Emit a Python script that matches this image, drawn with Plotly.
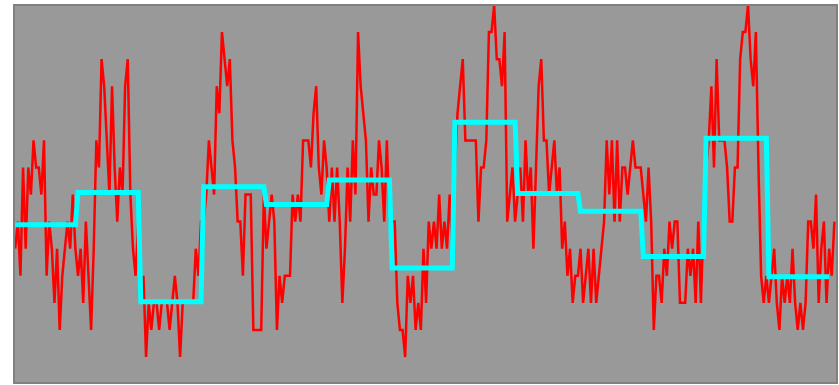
import plotly.graph_objects as go

# Raw signal, 24 samples per block, plus two trailing samples
signal = [
    4, 5, 3, 7, 4, 7, 6, 8, 7, 7, 6, 8, 3, 5, 4, 2, 4, 1, 3, 4, 5, 4, 6, 4,
    3, 4, 2, 5, 3, 1, 4, 8, 7, 11, 10, 8, 6, 10, 7, 5, 7, 6, 10, 11, 6, 4, 3, 5,
    2, 3, 0, 2, 1, 2, 2, 1, 2, 2, 2, 1, 2, 3, 2, 0, 2, 2, 2, 2, 2, 4, 3, 5,
    5, 6, 8, 7, 6, 10, 9, 12, 11, 10, 11, 8, 7, 5, 5, 3, 6, 6, 6, 1, 1, 1, 1, 6,
    4, 5, 6, 5, 1, 3, 2, 3, 3, 3, 6, 5, 6, 5, 8, 8, 8, 7, 9, 10, 7, 6, 8, 7,
    5, 7, 5, 7, 5, 2, 4, 7, 5, 8, 6, 12, 10, 9, 8, 5, 7, 6, 6, 8, 7, 5, 8, 5,
    5, 5, 2, 1, 1, 0, 3, 2, 3, 1, 2, 1, 4, 2, 5, 4, 5, 4, 6, 4, 5, 4, 6, 4,
    7, 9, 10, 11, 8, 8, 8, 8, 8, 5, 7, 7, 8, 12, 12, 13, 11, 11, 10, 12, 5, 6, 7, 5,
    6, 7, 5, 8, 6, 7, 4, 7, 10, 11, 8, 8, 6, 7, 8, 6, 7, 4, 5, 3, 4, 2, 3, 3,
    4, 2, 3, 4, 2, 4, 2, 3, 4, 5, 8, 6, 8, 5, 8, 5, 7, 7, 6, 7, 8, 7, 7, 7,
    6, 5, 7, 5, 1, 3, 3, 2, 4, 3, 5, 4, 5, 5, 2, 2, 2, 4, 3, 4, 2, 5, 2, 5,
    7, 8, 10, 7, 11, 8, 8, 8, 7, 5, 5, 7, 7, 11, 12, 12, 13, 11, 10, 12, 7, 3, 2, 3,
    2, 3, 4, 2, 1, 3, 2, 3, 2, 4, 2, 1, 2, 1, 2, 5, 5, 4, 6, 2, 4, 5, 2, 4,
    3, 5,
]

# Block means (one level per block of 24 samples)
block_levels = [4.88, 6.08, 2.04, 6.29, 5.63, 6.54, 3.29, 8.67, 6.04, 5.38, 3.71, 8.08, 2.96]
block_len = 24

x_signal = list(range(len(signal)))
step = [lvl for lvl in block_levels for _ in range(block_len)]
x_step = list(range(len(step)))

fig = go.Figure()
fig.add_trace(go.Scatter(
    x=x_signal, y=signal, mode="lines",
    line=dict(color="#ff0000", width=2.5),
    hoverinfo="skip", showlegend=False,
))
fig.add_trace(go.Scatter(
    x=x_step, y=step, mode="lines",
    line=dict(color="#00ffff", width=5),
    hoverinfo="skip", showlegend=False,
))

fig.update_layout(
    width=839, height=385,
    margin=dict(l=14, r=2, t=5, b=2),
    paper_bgcolor="#ffffff",
    plot_bgcolor="#999999",
    showlegend=False,
    xaxis=dict(range=[-0.46, 314.0], visible=False, showgrid=False, zeroline=False),
    yaxis=dict(range=[-0.96, 13.0], visible=False, showgrid=False, zeroline=False),
    shapes=[dict(
        type="rect", xref="paper", yref="paper", x0=0, y0=0, x1=1, y1=1,
        line=dict(color="#808080", width=2), fillcolor="rgba(0,0,0,0)", layer="above",
    )],
)

fig.write_html("out.html")
